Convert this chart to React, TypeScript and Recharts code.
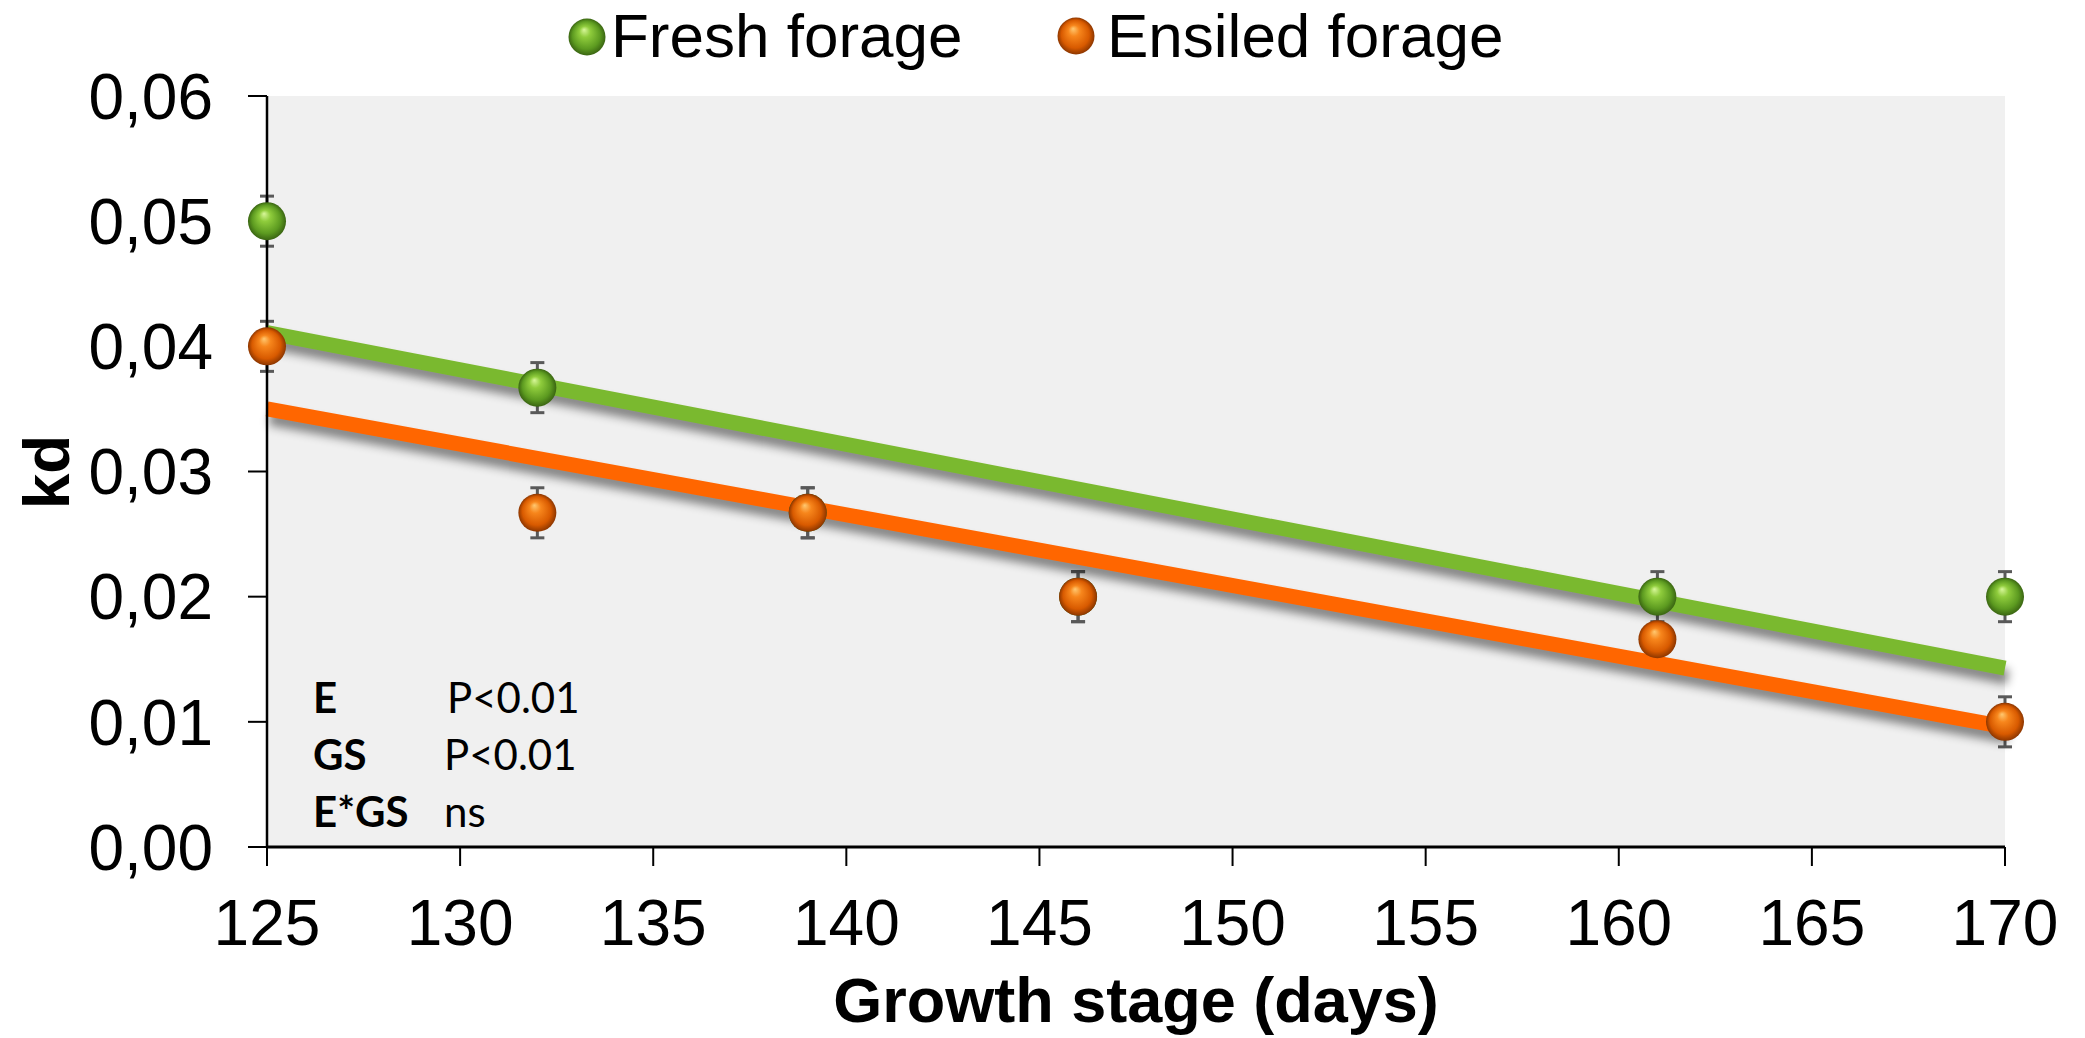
import { ComposedChart, Scatter, Line, XAxis, YAxis, CartesianGrid, ErrorBar } from 'recharts'

// kd vs growth stage, fresh vs ensiled forage
const xTicks = [125, 130, 135, 140, 145, 150, 155, 160, 165, 170]
const yTicks = [0, 0.01, 0.02, 0.03, 0.04, 0.05, 0.06]

const freshDays = [125, 132, 139, 146, 161, 170]
const freshKd = [0.05, 0.0367, 0.0267, 0.02, 0.02, 0.02]
const freshErr = [0.002, 0.002, 0.002, 0.002, 0.002, 0.002]

const ensiledDays = [125, 132, 139, 146, 161, 170]
const ensiledKd = [0.04, 0.0267, 0.0267, 0.02, 0.0166, 0.01]
const ensiledErr = [0.002, 0.002, 0.002, 0.002, 0.001, 0.002]

// trend lines (end points)
const trendDays = [125, 170]
const freshTrend = [0.0411, 0.0143]
const ensiledTrend = [0.035, 0.0096]

const stats = [
  { term: 'E', result: 'P<0.01' },
  { term: 'GS', result: 'P<0.01' },
  { term: 'E*GS', result: 'ns' },
]

const FONT = '"Liberation Sans", Arial, sans-serif'
const GREEN = '#7ab92f'
const ORANGE = '#ff6600'

const freshData = freshDays.map((x, i) => ({ x, y: freshKd[i], err: freshErr[i] }))
const ensiledData = ensiledDays.map((x, i) => ({ x, y: ensiledKd[i], err: ensiledErr[i] }))
const freshTrendData = trendDays.map((x, i) => ({ x, y: freshTrend[i] }))
const ensiledTrendData = trendDays.map((x, i) => ({ x, y: ensiledTrend[i] }))

function Ball({ cx, cy, grad, r = 19 }: { cx: number; cy: number; grad: string; r?: number }) {
  return <circle cx={cx} cy={cy} r={r} fill={`url(#${grad})`} />
}

function Defs() {
  return (
    <svg width={0} height={0} style={{ position: 'absolute' }}>
      <defs>
        <radialGradient id="gFresh" cx="50%" cy="50%" r="50%" fx="42%" fy="30%">
          <stop offset="0%" stopColor="#d8f79a" />
          <stop offset="30%" stopColor="#8fcc3c" />
          <stop offset="75%" stopColor="#5c9a20" />
          <stop offset="100%" stopColor="#3a6512" />
        </radialGradient>
        <radialGradient id="gEnsiled" cx="50%" cy="50%" r="50%" fx="42%" fy="30%">
          <stop offset="0%" stopColor="#ffc870" />
          <stop offset="30%" stopColor="#f7861c" />
          <stop offset="75%" stopColor="#d85a00" />
          <stop offset="100%" stopColor="#8c3600" />
        </radialGradient>
      </defs>
    </svg>
  )
}

function LegendBar() {
  const items = [
    { name: 'Fresh forage', grad: 'gFresh', cx: 587, cy: 37, tx: 611 },
    { name: 'Ensiled forage', grad: 'gEnsiled', cx: 1076, cy: 36, tx: 1107 },
  ]
  return (
    <svg width={2085} height={90} style={{ position: 'absolute', left: 0, top: 0 }}>
      {items.map((it) => (
        <g key={it.name}>
          <Ball cx={it.cx} cy={it.cy} r={18.5} grad={it.grad} />
          <text x={it.tx} y={57} fontFamily={FONT} fontSize={62} fill="#000">
            {it.name}
          </text>
        </g>
      ))}
    </svg>
  )
}

const fmt = (v: number) => v.toFixed(2).replace('.', ',')

export default function App() {
  return (
    <div style={{ position: 'absolute', left: 0, top: 0, width: 2085, height: 1038, background: '#fff' }}>
      <style>{`.trend path { filter: drop-shadow(3px 9px 5px rgba(0,0,0,0.45)); }`}</style>
      <Defs />
      <ComposedChart width={2085} height={1038} margin={{ top: 96, right: 80, bottom: 0, left: 0 }}>
        <CartesianGrid fill="#f0f0f0" horizontal={false} vertical={false} />
        <XAxis
          dataKey="x"
          type="number"
          domain={[125, 170]}
          ticks={xTicks}
          height={191}
          tickSize={19}
          tickMargin={34}
          axisLine={{ stroke: '#000', strokeWidth: 3 }}
          tickLine={{ stroke: '#000', strokeWidth: 2 }}
          tick={{ fill: '#000', fontSize: 64, fontFamily: FONT }}
          label={{
            content: ({ viewBox }: any) => (
              <text
                x={viewBox.x + viewBox.width / 2}
                y={viewBox.y + 175}
                textAnchor="middle"
                fontFamily={FONT}
                fontWeight="bold"
                fontSize={63}
                fill="#000"
              >
                Growth stage (days)
              </text>
            ),
          }}
        />
        <YAxis
          dataKey="y"
          type="number"
          domain={[0, 0.06]}
          ticks={yTicks}
          width={267}
          tickSize={19}
          tickMargin={35}
          tickFormatter={fmt}
          axisLine={{ stroke: '#000', strokeWidth: 2.5 }}
          tickLine={{ stroke: '#000', strokeWidth: 2 }}
          tick={{ fill: '#000', fontSize: 64, fontFamily: FONT }}
          label={{
            content: () => (
              <text
                x={47}
                y={472}
                dy="0.35em"
                transform="rotate(-90, 47, 472)"
                textAnchor="middle"
                fontFamily={FONT}
                fontWeight="bold"
                fontSize={64}
                fill="#000"
              >
                kd
              </text>
            ),
          }}
        />
        <Scatter
          data={freshData}
          isAnimationActive={false}
          shape={(p: any) => <Ball cx={p.cx} cy={p.cy} grad="gFresh" />}
        >
          <ErrorBar dataKey="err" direction="y" width={7} strokeWidth={3} stroke="#595959" isAnimationActive={false} />
        </Scatter>
        <Scatter
          data={ensiledData}
          isAnimationActive={false}
          shape={(p: any) => <Ball cx={p.cx} cy={p.cy} grad="gEnsiled" />}
        >
          <ErrorBar dataKey="err" direction="y" width={7} strokeWidth={3} stroke="#595959" isAnimationActive={false} />
        </Scatter>
        <Line
          data={freshTrendData}
          dataKey="y"
          className="trend"
          type="linear"
          stroke={GREEN}
          strokeWidth={15}
          dot={false}
          activeDot={false}
          isAnimationActive={false}
        />
        <Line
          data={ensiledTrendData}
          dataKey="y"
          className="trend"
          type="linear"
          stroke={ORANGE}
          strokeWidth={15}
          dot={false}
          activeDot={false}
          isAnimationActive={false}
        />
        {stats.map((s, i) => (
          <g key={s.term} fontFamily="Lato, 'Open Sans', sans-serif" fontSize={42} fill="#000">
            <text x={313} y={713 + i * 57} fontWeight="bold">
              {s.term}
            </text>
            <text x={i === 0 ? 447 : 444} y={713 + i * 57}>
              {s.result}
            </text>
          </g>
        ))}
      </ComposedChart>
      <LegendBar />
    </div>
  )
}
